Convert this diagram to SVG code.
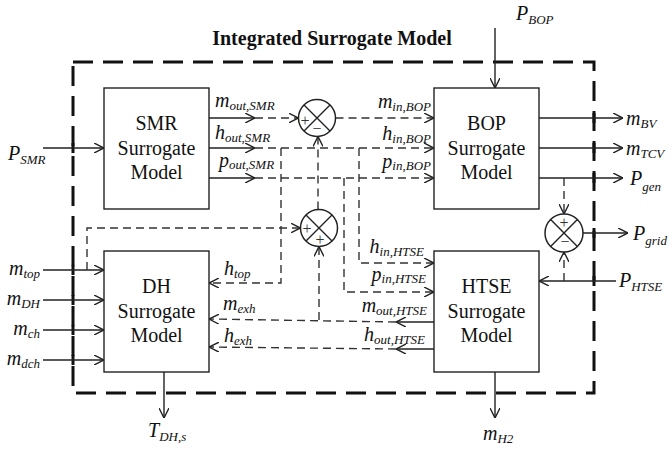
<svg xmlns="http://www.w3.org/2000/svg" width="672" height="452" viewBox="0 0 672 452">
  <style>
    .box { fill: #ffffff; stroke: #222; stroke-width: 1.4; }
    .bt { font-family: "Liberation Serif", "Times New Roman", serif; font-size: 20px; fill: #111; text-anchor: middle; }
    .title { font-family: "Liberation Serif", "Times New Roman", serif; font-size: 20px; font-weight: bold; fill: #111; text-anchor: middle; }
    .lbl { font-family: "Liberation Serif", "Times New Roman", serif; font-size: 20px; font-style: italic; fill: #111; }
    .lbl tspan.s { font-size: 13px; }
    .end { text-anchor: end; }
    .sol { fill: none; stroke: #222; stroke-width: 1.4; }
    .dsh { fill: none; stroke: #333; stroke-width: 1.4; stroke-dasharray: 8 5; }
    .border { fill: none; stroke: #111; stroke-width: 3; stroke-dasharray: 20 10; }
    .tick { stroke: #111; stroke-width: 3; }
    .sum { fill: #ffffff; stroke: #222; stroke-width: 1.5; }
    .sign { font-family: "Liberation Serif", "Times New Roman", serif; font-size: 16px; fill: #333; text-anchor: middle; }
  </style>
  <defs>
    <marker id="arr" viewBox="0 0 10 10" refX="10" refY="5" markerWidth="10" markerHeight="10" markerUnits="userSpaceOnUse" orient="auto">
      <path d="M0,0 L10,5 L0,10" fill="none" stroke="#222" stroke-width="1.4"/>
    </marker>
  </defs>

  <!-- system boundary -->
  <g id="boundary">
    <text class="title" x="332" y="45">Integrated Surrogate Model</text>
    <rect class="border" x="73" y="62" width="521" height="331"/>
    <line class="tick" x1="73" y1="143" x2="73" y2="153"/>
    <line class="tick" x1="73" y1="265" x2="73" y2="275"/>
    <line class="tick" x1="73" y1="295" x2="73" y2="305"/>
    <line class="tick" x1="73" y1="325" x2="73" y2="335"/>
    <line class="tick" x1="73" y1="355" x2="73" y2="365"/>
    <line class="tick" x1="594" y1="113" x2="594" y2="123"/>
    <line class="tick" x1="594" y1="143" x2="594" y2="153"/>
    <line class="tick" x1="594" y1="173" x2="594" y2="183"/>
    <line class="tick" x1="594" y1="228" x2="594" y2="238"/>
    <line class="tick" x1="594" y1="276" x2="594" y2="286"/>
  </g>

  <!-- connectors -->
  <g id="connectors">
    <!-- external inputs -->
    <path class="sol" d="M43,148 H104" marker-end="url(#arr)"/>
    <path class="sol" d="M43,270 H104" marker-end="url(#arr)"/>
    <path class="sol" d="M43,300 H104" marker-end="url(#arr)"/>
    <path class="sol" d="M43,330 H104" marker-end="url(#arr)"/>
    <path class="sol" d="M43,360 H104" marker-end="url(#arr)"/>
    <path class="sol" d="M495,28 V88" marker-end="url(#arr)"/>
    <path class="sol" d="M616,281 H539" marker-end="url(#arr)"/>

    <!-- SMR outputs -->
    <path class="sol" d="M209,118 H255" marker-end="url(#arr)"/>
    <path class="dsh" d="M255,118 H298.5" marker-end="url(#arr)"/>
    <path class="sol" d="M209,148 H255" marker-end="url(#arr)"/>
    <path class="dsh" d="M255,148 H434" marker-end="url(#arr)"/>
    <path class="sol" d="M209,178 H255" marker-end="url(#arr)"/>
    <path class="dsh" d="M255,178 H434" marker-end="url(#arr)"/>

    <!-- summation 1 to BOP -->
    <path class="dsh" d="M335.5,118 H434" marker-end="url(#arr)"/>
    <!-- summation 2 to summation 1 -->
    <path class="dsh" d="M318,209.5 V136.5" marker-end="url(#arr)"/>

    <!-- branches -->
    <path class="dsh" d="M281,148 V283 H209" marker-end="url(#arr)"/>
    <path class="dsh" d="M359,148 V263 H434" marker-end="url(#arr)"/>
    <path class="dsh" d="M344,178 V292 H434" marker-end="url(#arr)"/>
    <path class="dsh" d="M87,270 V228 H300.5" marker-end="url(#arr)"/>

    <!-- HTSE outputs to DH -->
    <path class="sol" d="M434,322 H396" marker-end="url(#arr)"/>
    <path class="dsh" d="M396,322 L209,319" marker-end="url(#arr)"/>
    <path class="sol" d="M434,349 H396" marker-end="url(#arr)"/>
    <path class="dsh" d="M396,349 L209,347" marker-end="url(#arr)"/>
    <path class="dsh" d="M319,320 V246.5" marker-end="url(#arr)"/>

    <!-- BOP outputs -->
    <path class="sol" d="M539,118 H623" marker-end="url(#arr)"/>
    <path class="sol" d="M539,148 H623" marker-end="url(#arr)"/>
    <path class="sol" d="M539,178 H623" marker-end="url(#arr)"/>
    <path class="dsh" d="M564,178 V214" marker-end="url(#arr)"/>
    <path class="dsh" d="M564,281 V252" marker-end="url(#arr)"/>
    <path class="sol" d="M583,233 H628" marker-end="url(#arr)"/>

    <!-- bottom outputs -->
    <path class="sol" d="M164,372 V418" marker-end="url(#arr)"/>
    <path class="sol" d="M495,372 V418" marker-end="url(#arr)"/>
  </g>

  <!-- model blocks -->
  <g id="smr">
    <rect class="box" x="104" y="88" width="105" height="121"/>
    <text class="bt" x="156.5" y="130">SMR</text>
    <text class="bt" x="156.5" y="155">Surrogate</text>
    <text class="bt" x="156.5" y="179">Model</text>
  </g>
  <g id="bop">
    <rect class="box" x="434" y="88" width="105" height="121"/>
    <text class="bt" x="486.5" y="130">BOP</text>
    <text class="bt" x="486.5" y="155">Surrogate</text>
    <text class="bt" x="486.5" y="179">Model</text>
  </g>
  <g id="dh">
    <rect class="box" x="104" y="251" width="105" height="121"/>
    <text class="bt" x="156.5" y="293">DH</text>
    <text class="bt" x="156.5" y="318">Surrogate</text>
    <text class="bt" x="156.5" y="342">Model</text>
  </g>
  <g id="htse">
    <rect class="box" x="434" y="251" width="105" height="121"/>
    <text class="bt" x="486.5" y="293">HTSE</text>
    <text class="bt" x="486.5" y="318">Surrogate</text>
    <text class="bt" x="486.5" y="342">Model</text>
  </g>

  <!-- summing junctions -->
  <g id="sum-mass">
    <circle class="sum" cx="317" cy="118" r="18.5"/>
    <path class="sol" d="M304,105 L330,131 M330,105 L304,131"/>
    <text class="sign" x="305" y="126">+</text>
    <text class="sign" x="317" y="134">−</text>
  </g>
  <g id="sum-enthalpy">
    <circle class="sum" cx="319" cy="228" r="18.5"/>
    <path class="sol" d="M306,215 L332,241 M332,215 L306,241"/>
    <text class="sign" x="307" y="234">+</text>
    <text class="sign" x="320" y="245">+</text>
  </g>
  <g id="sum-grid">
    <circle class="sum" cx="564" cy="233" r="19"/>
    <path class="sol" d="M550.6,219.6 L577.4,246.4 M577.4,219.6 L550.6,246.4"/>
    <text class="sign" x="564" y="228">+</text>
    <text class="sign" x="565" y="247">−</text>
  </g>

  <!-- signal labels -->
  <g id="labels">
    <text class="lbl" x="8" y="160">P<tspan class="s" dy="4">SMR</tspan></text>
    <text class="lbl" x="215" y="107">m<tspan class="s" dy="3">out,SMR</tspan></text>
    <text class="lbl" x="215" y="139">h<tspan class="s" dy="3">out,SMR</tspan></text>
    <text class="lbl" x="219" y="167">p<tspan class="s" dy="2">out,SMR</tspan></text>
    <text class="lbl end" x="431" y="108">m<tspan class="s" dy="3">in,BOP</tspan></text>
    <text class="lbl end" x="431" y="140">h<tspan class="s" dy="3">in,BOP</tspan></text>
    <text class="lbl end" x="431" y="168">p<tspan class="s" dy="2">in,BOP</tspan></text>
    <text class="lbl" x="516" y="20">P<tspan class="s" dy="4">BOP</tspan></text>
    <text class="lbl" x="626" y="125">m<tspan class="s" dy="3">BV</tspan></text>
    <text class="lbl" x="626" y="155">m<tspan class="s" dy="3">TCV</tspan></text>
    <text class="lbl" x="630" y="185">P<tspan class="s" dy="6">gen</tspan></text>
    <text class="lbl" x="633" y="240">P<tspan class="s" dy="5">grid</tspan></text>
    <text class="lbl" x="619" y="287">P<tspan class="s" dy="4">HTSE</tspan></text>
    <text class="lbl end" x="40" y="275">m<tspan class="s" dy="3">top</tspan></text>
    <text class="lbl end" x="40" y="305">m<tspan class="s" dy="3">DH</tspan></text>
    <text class="lbl end" x="40" y="335">m<tspan class="s" dy="3">ch</tspan></text>
    <text class="lbl end" x="40" y="365">m<tspan class="s" dy="3">dch</tspan></text>
    <text class="lbl" x="224" y="275">h<tspan class="s" dy="3">top</tspan></text>
    <text class="lbl" x="223" y="310">m<tspan class="s" dy="3">exh</tspan></text>
    <text class="lbl" x="224" y="342">h<tspan class="s" dy="3">exh</tspan></text>
    <text class="lbl end" x="424" y="253">h<tspan class="s" dy="3">in,HTSE</tspan></text>
    <text class="lbl end" x="426" y="281">p<tspan class="s" dy="2">in,HTSE</tspan></text>
    <text class="lbl end" x="427" y="312">m<tspan class="s" dy="3">out,HTSE</tspan></text>
    <text class="lbl end" x="425" y="341">h<tspan class="s" dy="3">out,HTSE</tspan></text>
    <text class="lbl" x="148" y="437">T<tspan class="s" dy="4">DH,s</tspan></text>
    <text class="lbl" x="483" y="440">m<tspan class="s" dy="3">H2</tspan></text>
  </g>
</svg>
